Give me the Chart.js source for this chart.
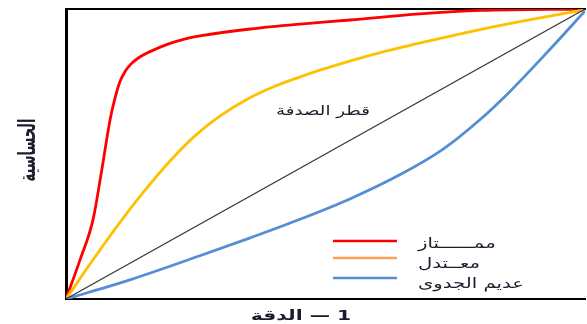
<!DOCTYPE html>
<html lang="ar">
<head>
<meta charset="utf-8">
<script src="https://cdn.jsdelivr.net/npm/chart.js@4"></script>
<style>
  html, body { margin: 0; padding: 0; background: #fff; }
  #roc { display: block; }
</style>
</head>
<body>
<canvas id="roc" width="587" height="324" dir="rtl"></canvas>
<script>
// ROC curves: 1 - specificity (x) vs sensitivity (y)
const excellentX = [0, 0.027, 0.052, 0.069, 0.085, 0.094, 0.104, 0.114, 0.125, 0.14, 0.162, 0.195, 0.23, 0.258, 0.355, 0.451, 0.547, 0.682, 0.8, 1];
const excellentY = [0, 0.135, 0.273, 0.446, 0.619, 0.69, 0.75, 0.785, 0.81, 0.832, 0.853, 0.878, 0.897, 0.907, 0.931, 0.948, 0.962, 0.983, 0.995, 1];

const moderateX = [0, 0.05, 0.1, 0.15, 0.2, 0.25, 0.3, 0.35, 0.4, 0.45, 0.5, 0.6, 0.7, 0.8, 0.9, 1];
const moderateY = [0, 0.13, 0.255, 0.37, 0.475, 0.565, 0.635, 0.69, 0.732, 0.765, 0.795, 0.847, 0.89, 0.93, 0.965, 0.997];

const uselessX = [0, 0.123, 0.258, 0.355, 0.451, 0.547, 0.644, 0.726, 0.798, 0.855, 0.933, 1];
const uselessY = [0, 0.066, 0.149, 0.211, 0.275, 0.345, 0.429, 0.516, 0.619, 0.715, 0.862, 0.993];

const chanceX = [0, 1];
const chanceY = [0, 1];

const legendLabels = ['ممــــــتاز', 'معــتدل', 'عديم الجدوى'];
const legendColors = ['#ff0000', '#f9a15a', '#558ed5'];
const chanceLabel = 'قطر الصدفة';
const xTitle = '1 — الدقة';
const yTitle = 'الحساسية';

const toPoints = (xs, ys) => xs.map((x, i) => ({ x, y: ys[i] }));

// the source picture is stretched sideways, so text is drawn with a horizontal scale
function wideText(ctx, text, x, y, sx, sy, rot) {
  ctx.save();
  ctx.translate(x, y);
  if (rot) ctx.rotate(rot);
  ctx.scale(sx, sy);
  ctx.fillText(text, 0, 0);
  ctx.restore();
}

const textPlugin = {
  id: 'rocText',
  afterDraw(chart) {
    const { ctx } = chart;
    ctx.save();
    ctx.direction = 'rtl';
    ctx.fillStyle = '#1c1c2c';
    ctx.textBaseline = 'middle';

    // diagonal label
    ctx.font = '13px "DejaVu Sans"';
    ctx.textAlign = 'center';
    wideText(ctx, chanceLabel, 323, 112, 1.4, 1);

    // x title
    ctx.font = 'bold 14px "DejaVu Sans"';
    wideText(ctx, xTitle, 301, 316, 1.45, 1);

    // y title, rotated, so the stretch goes on its height
    ctx.font = 'bold 13px "DejaVu Sans"';
    wideText(ctx, yTitle, 29, 150, 1, 1.8, -Math.PI / 2);

    // legend
    const lineY = [241, 258, 278];
    const textY = [244, 264, 284];
    ctx.font = '14px "DejaVu Sans"';
    ctx.textAlign = 'left';
    legendLabels.forEach((label, i) => {
      ctx.strokeStyle = legendColors[i];
      ctx.lineWidth = 2.5;
      ctx.beginPath();
      ctx.moveTo(333, lineY[i]);
      ctx.lineTo(397, lineY[i]);
      ctx.stroke();
      wideText(ctx, label, 418, textY[i], 1.4, 1);
    });
    ctx.restore();
  }
};

const noTicks = { display: false };
const noGrid = { display: false, drawTicks: false };

new Chart(document.getElementById('roc'), {
  type: 'line',
  data: {
    datasets: [
      {
        label: 'chance',
        data: toPoints(chanceX, chanceY),
        borderColor: '#404040',
        borderWidth: 1.2,
        pointRadius: 0,
        tension: 0
      },
      {
        label: legendLabels[2],
        data: toPoints(uselessX, uselessY),
        borderColor: '#558ed5',
        borderWidth: 2.8,
        pointRadius: 0,
        cubicInterpolationMode: 'monotone'
      },
      {
        label: legendLabels[1],
        data: toPoints(moderateX, moderateY),
        borderColor: '#ffc000',
        borderWidth: 2.8,
        pointRadius: 0,
        cubicInterpolationMode: 'monotone'
      },
      {
        label: legendLabels[0],
        data: toPoints(excellentX, excellentY),
        borderColor: '#ff0000',
        borderWidth: 2.8,
        pointRadius: 0,
        cubicInterpolationMode: 'monotone'
      }
    ]
  },
  options: {
    responsive: false,
    animation: false,
    layout: { padding: { left: 66, top: 9, right: 2, bottom: 25 } },
    plugins: {
      legend: { display: false },
      tooltip: { enabled: false }
    },
    scales: {
      x: {
        type: 'linear',
        min: 0,
        max: 1,
        ticks: noTicks,
        grid: noGrid,
        border: { color: '#000', width: 2 }
      },
      xTop: {
        type: 'linear',
        position: 'top',
        min: 0,
        max: 1,
        ticks: noTicks,
        grid: noGrid,
        border: { color: '#000', width: 2 }
      },
      y: {
        min: 0,
        max: 1,
        ticks: noTicks,
        grid: noGrid,
        border: { color: '#000', width: 3 }
      }
    }
  },
  plugins: [textPlugin]
});
</script>
</body>
</html>
